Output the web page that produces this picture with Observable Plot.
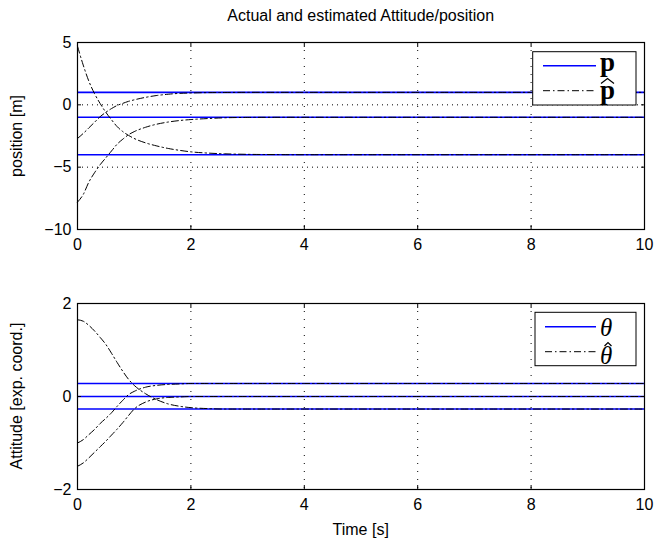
<!DOCTYPE html>
<html><head><meta charset="utf-8">
<script src="https://cdn.jsdelivr.net/npm/d3@7"></script>
<script src="https://cdn.jsdelivr.net/npm/@observablehq/plot@0.6"></script>
<style>
html,body{margin:0;padding:0;background:#fff;overflow:hidden;}
#wrap{position:relative;width:668px;height:540px;font-family:"Liberation Sans",Arial,Helvetica,sans-serif;color:#000;}
#wrap svg{position:absolute;left:0;}
</style></head><body><div id="wrap"></div>
<script>
// ---------- data ----------
const tEst = [0, 0.1, 0.2, 0.3, 0.4, 0.5, 0.6, 0.7, 0.8, 0.9, 1.0, 1.2, 1.4, 1.6, 1.8, 2.0, 2.3, 2.6, 3.0, 3.5, 4.0, 10];
// actual positions
const pTrue = [1, -1, -4];
// estimated positions
const pHat1 = [4.7, 3.2, 1.9, 0.9, 0.1, -0.6, -1.2, -1.75, -2.15, -2.45, -2.7, -3.05, -3.3, -3.5, -3.65, -3.77, -3.87, -3.93, -3.97, -3.99, -4.0, -4.0];
const pHat2 = [-2.7, -2.3, -1.85, -1.4, -0.95, -0.6, -0.3, -0.05, 0.12, 0.28, 0.4, 0.6, 0.75, 0.85, 0.92, 0.95, 0.98, 0.99, 1.0, 1.0, 1.0, 1.0];
const pHat3 = [-7.8, -7.2, -6.2, -5.45, -4.8, -4.25, -3.7, -3.15, -2.75, -2.4, -2.15, -1.8, -1.55, -1.38, -1.26, -1.18, -1.1, -1.04, -1.01, -1.0, -1.0, -1.0];
// actual attitude
const thTrue = [0.28, 0, -0.27];
// estimated attitude
const thHat1 = [1.65, 1.62, 1.53, 1.41, 1.27, 1.12, 0.93, 0.73, 0.54, 0.37, 0.24, 0.06, -0.07, -0.16, -0.21, -0.24, -0.26, -0.27, -0.27, -0.27, -0.27, -0.27];
const thHat2 = [-1.0, -0.93, -0.82, -0.71, -0.58, -0.47, -0.35, -0.21, -0.08, 0.04, 0.11, 0.2, 0.24, 0.26, 0.27, 0.28, 0.28, 0.28, 0.28, 0.28, 0.28, 0.28];
const thHat3 = [-1.5, -1.43, -1.32, -1.2, -1.08, -0.96, -0.83, -0.7, -0.56, -0.41, -0.27, -0.12, -0.05, -0.02, -0.01, 0, 0, 0, 0, 0, 0, 0];
// axes
const xTicks = [0, 2, 4, 6, 8, 10];
const yTicksP = [-10, -5, 0, 5];
const yTicksTh = [-2, 0, 2];
const labels = {title: "Actual and estimated Attitude/position", yP: "position [m]", yTh: "Attitude [exp. coord.]", x: "Time [s]"};

// ---------- build ----------
const toRows = (series) => series.flatMap((vals, i) => tEst.map((t, j) => ({t, v: vals[j], id: i})));
const estP = toRows([pHat1, pHat2, pHat3]);
const estTh = toRows([thHat1, thHat2, thHat3]);
const DASHDOT = "7,3,1.5,3";
const FS = 16;

function panel(yDomain, yTicks, truth, est, height, mt, mb) {
  return Plot.plot({
    width: 668, height,
    marginLeft: 77, marginRight: 24, marginTop: mt, marginBottom: mb,
    style: {fontFamily: "Liberation Sans, Arial, sans-serif", fontSize: FS + "px", color: "#000", background: "transparent", overflow: "visible"},
    x: {domain: [0, 10]},
    y: {domain: yDomain},
    marks: [
      Plot.gridX(xTicks.slice(1, -1), {stroke: "#000", strokeOpacity: 1, strokeDasharray: "1,7"}),
      Plot.gridY(yTicks.slice(1, -1), {stroke: "#000", strokeOpacity: 1, strokeDasharray: "1,4"}),
      Plot.ruleY(truth, {stroke: "#0000ff", strokeWidth: 1.6}),
      Plot.line(est, {x: "t", y: "v", z: "id", stroke: "#000", strokeWidth: 1, strokeDasharray: DASHDOT, curve: "monotone-x"}),
      Plot.frame({stroke: "#000", strokeWidth: 1.2}),
      Plot.axisX(xTicks, {anchor: "bottom", tickSize: -4, fill: "none", label: null}),
      Plot.axisX(xTicks, {anchor: "top", tickSize: -4, fill: "none", label: null}),
      Plot.axisY(yTicks, {anchor: "left", tickSize: -4, fill: "none", label: null}),
      Plot.axisY(yTicks, {anchor: "right", tickSize: -4, fill: "none", label: null}),
      Plot.axisX(xTicks, {anchor: "bottom", tickSize: 0, tickPadding: 9, label: null}),
      Plot.axisY(yTicks, {anchor: "left", tickSize: 0, tickPadding: 6, label: null})
    ]
  });
}

const wrap = document.getElementById("wrap");
const top1 = panel([-10, 5], yTicksP, pTrue, estP, 260, 42, 31);
top1.style.top = "0px";
wrap.appendChild(top1);
const bot = panel([-2, 2], yTicksTh, thTrue, estTh, 280, 43, 51);
bot.style.top = "260px";
wrap.appendChild(bot);

// ---------- overlay: titles + legends ----------
const NS = "http://www.w3.org/2000/svg";
const ov = document.createElementNS(NS, "svg");
ov.setAttribute("width", 668); ov.setAttribute("height", 540);
ov.style.top = "0px";
ov.setAttribute("font-family", "Liberation Sans, Arial, sans-serif");
ov.setAttribute("font-size", FS);
function el(tag, attrs, text) {
  const e = document.createElementNS(NS, tag);
  for (const k in attrs) e.setAttribute(k, attrs[k]);
  if (text != null) e.textContent = text;
  ov.appendChild(e);
  return e;
}
el("text", {x: 360.7, y: 21, "text-anchor": "middle"}, labels.title);
el("text", {x: 360.7, y: 535, "text-anchor": "middle"}, labels.x);
el("text", {transform: "translate(22,136) rotate(-90)", "text-anchor": "middle"}, labels.yP);
el("text", {transform: "translate(22,396) rotate(-90)", "text-anchor": "middle"}, labels.yTh);

const SERIF = "Liberation Serif, Times New Roman, serif";
// legend 1
el("rect", {x: 532.7, y: 51.7, width: 103.3, height: 53.3, fill: "#fff", stroke: "#000", "stroke-width": 1});
el("line", {x1: 543, x2: 596, y1: 65.7, y2: 65.7, stroke: "#0000ff", "stroke-width": 1.6});
el("line", {x1: 543, x2: 596, y1: 90.7, y2: 90.7, stroke: "#000", "stroke-width": 1, "stroke-dasharray": DASHDOT});
el("text", {x: 600, y: 71, "font-family": SERIF, "font-weight": "bold", "font-size": 27}, "p");
el("text", {x: 600, y: 99, "font-family": SERIF, "font-weight": "bold", "font-size": 27}, "p");
el("polyline", {points: "601,83.5 607.5,78.5 614,83.5", fill: "none", stroke: "#000", "stroke-width": 1.2});
// legend 2
el("rect", {x: 535, y: 312.3, width: 101, height: 53.4, fill: "#fff", stroke: "#000", "stroke-width": 1});
el("line", {x1: 545, x2: 596, y1: 326.7, y2: 326.7, stroke: "#0000ff", "stroke-width": 1.6});
el("line", {x1: 545, x2: 596, y1: 351.7, y2: 351.7, stroke: "#000", "stroke-width": 1, "stroke-dasharray": DASHDOT});
el("text", {x: 600, y: 336, "font-family": SERIF, "font-style": "italic", "font-size": 25}, "θ");
el("text", {x: 600, y: 364, "font-family": SERIF, "font-style": "italic", "font-size": 25}, "θ");
el("polyline", {points: "604.5,346 608,342.5 611.5,346", fill: "none", stroke: "#000", "stroke-width": 1.2});
wrap.appendChild(ov);
</script>
</body></html>
